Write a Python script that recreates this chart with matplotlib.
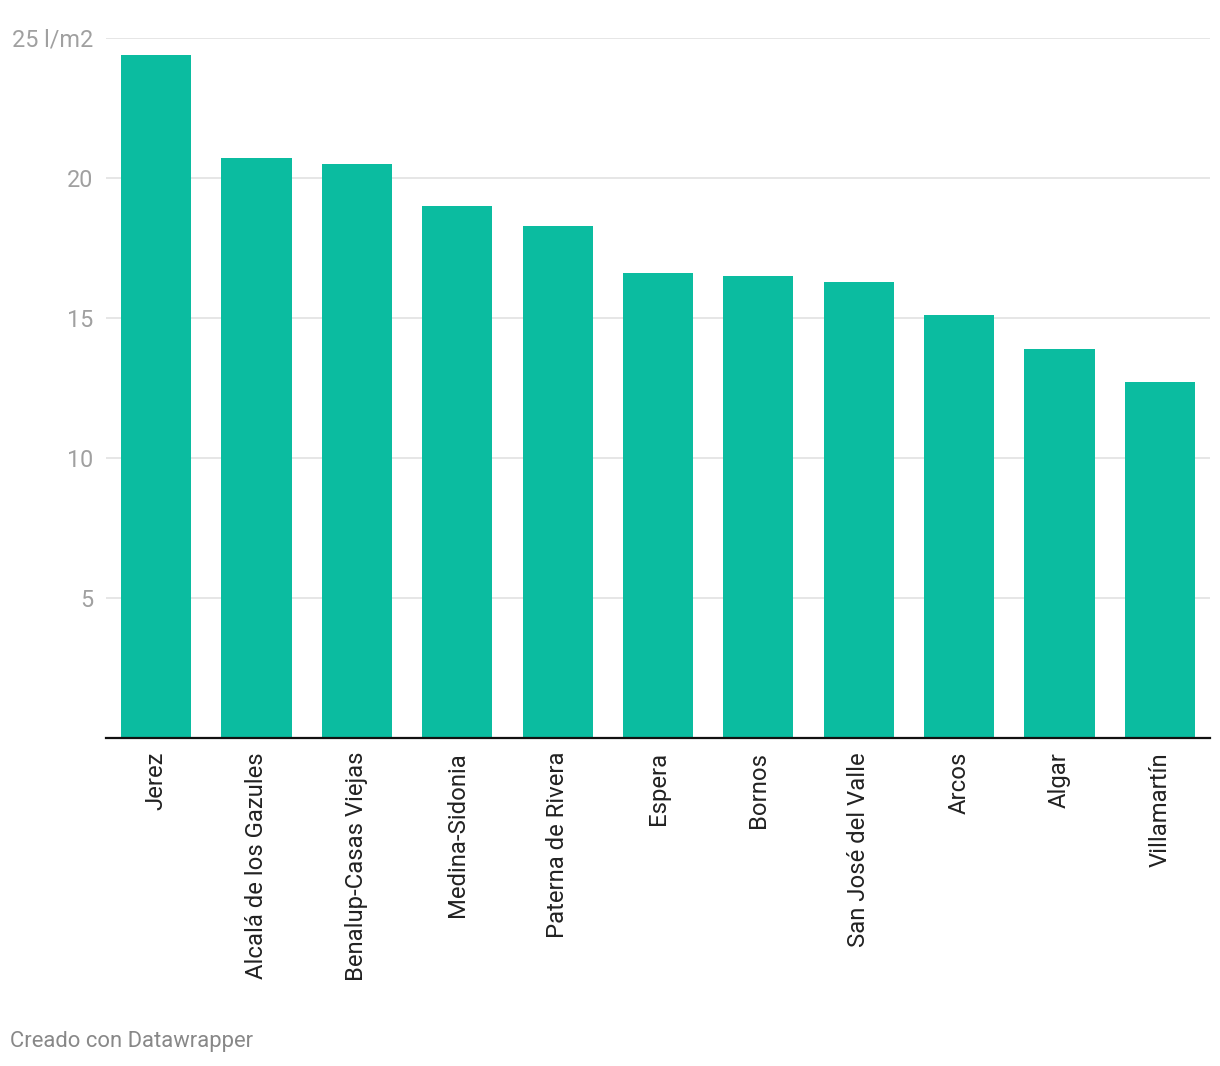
import matplotlib
matplotlib.use("Agg")
import matplotlib.pyplot as plt

# data
municipios = ["Jerez", "Alcalá de los Gazules", "Benalup-Casas Viejas", "Medina-Sidonia",
              "Paterna de Rivera", "Espera", "Bornos", "San José del Valle", "Arcos",
              "Algar", "Villamartín"]
lluvia = [24.4, 20.7, 20.5, 19.0, 18.3, 16.6, 16.5, 16.3, 15.1, 13.9, 12.7]
yticks = [5, 10, 15, 20, 25]
ylabels = ["5", "10", "15", "20", "25 l/m2"]

plt.rcParams['font.family'] = ['Roboto', 'DejaVu Sans']

W, H = 1220, 1066
fig = plt.figure(figsize=(W / 100, H / 100), dpi=100)
ax = fig.add_axes([106 / W, 1 - 738 / H, (1210 - 106) / W, (738 - 38) / H])

x = range(len(municipios))
ax.bar(x, lluvia, width=0.7, color="#0bbca0", zorder=2)

ax.set_xlim(-0.5, len(municipios) - 0.5)
ax.set_ylim(0, 25)
ax.set_yticks(yticks)
ax.set_yticklabels(ylabels)
ax.grid(axis="y", color="#e2e2e2", linewidth=1.2, zorder=0)

ax.set_xticks(list(x))
ax.set_xticklabels(municipios, rotation=90, ha="center", va="top",
                   fontsize=17.2, color="#222222")
ax.tick_params(axis="x", length=0, pad=10)
ax.tick_params(axis="y", length=0, pad=9, labelsize=16.8, labelcolor="#a0a0a0")

for s in ["top", "right", "left"]:
    ax.spines[s].set_visible(False)
ax.spines["bottom"].set_color("#111111")
ax.spines["bottom"].set_linewidth(1.6)
ax.spines["bottom"].set_zorder(3)

fig.text(10 / W, 1 - 1041 / H, "Creado con Datawrapper", fontsize=15.8,
         color="#888888", ha="left", va="center")

fig.savefig("out.png", dpi=100)
